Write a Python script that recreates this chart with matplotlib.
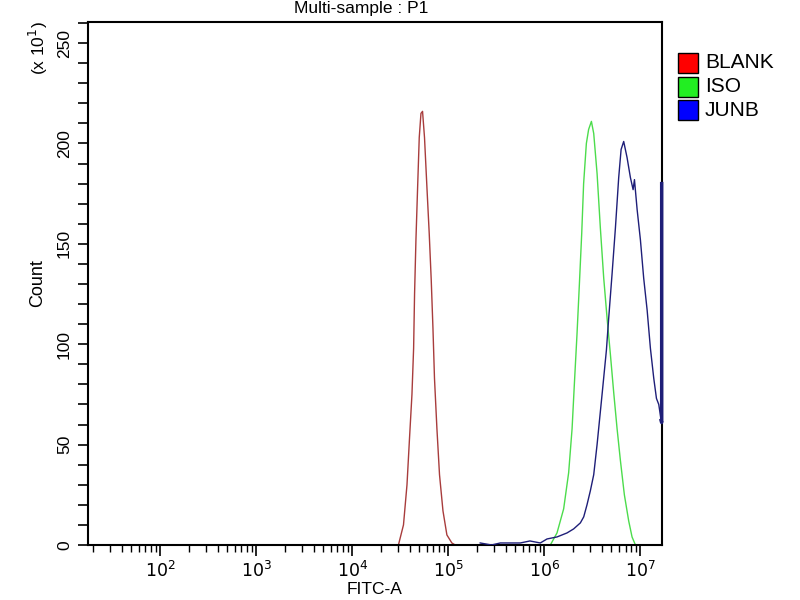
import matplotlib
matplotlib.use('Agg')
import matplotlib.pyplot as plt
from matplotlib.patches import Rectangle
from matplotlib.ticker import LogLocator, MultipleLocator, NullFormatter

plt.rcParams['font.family'] = ['Liberation Sans', 'DejaVu Sans']

# histogram outlines (FITC-A value, count)
blank_x = [30300, 34200, 37200, 39500, 41900, 43600, 44600, 46100, 47900, 49900,
           52000, 54000, 56600, 60000, 63400, 66500, 69300, 71900, 76200, 81100,
           88100, 96800, 109000, 118000]
blank_y = [0, 10, 30, 53, 75, 98, 125, 152, 177, 203,
           215, 216, 203, 178, 155, 132, 108, 83, 58, 35,
           17, 5, 1, 0]

iso_x = [1155000, 1355000, 1589000, 1791000, 1945000, 2053000, 2188000, 2317000,
         2449000, 2564000, 2738000, 2891000, 3090000, 3266000, 3540000, 3828000,
         4150000, 4498000, 4869000, 5272000, 5715000, 6194000, 6808000, 7551000,
         8185000, 8872000]
iso_y = [0, 6, 18, 36, 58, 80, 105, 130,
         155, 180, 200, 207, 211, 205, 185, 158,
         133, 113, 95, 76, 58, 42, 25, 12,
         4, 0]

junb_x = [215000, 282000, 348000, 447000, 562000, 708000, 908000, 1067000,
          1355000, 1722000, 2018000, 2371000, 2570000, 2780000, 3013000, 3266000,
          3540000, 3767000, 3990000, 4426000, 4677000, 5070000, 5495000, 5943000,
          6295000, 6699000, 7261000, 7870000, 8395000, 8670000, 9247000, 10000000,
          10814000, 11749000, 12706000, 13772000, 14689000, 15524000, 16444000,
          16650000, 16650000]
junb_y = [1, 0, 1, 1, 1, 2, 1, 3,
          4, 6, 8, 11, 14, 20, 27, 35,
          50, 63, 75, 97, 113, 135, 158, 183,
          197, 201, 193, 183, 177, 182, 167, 152,
          133, 117, 98, 83, 73, 70, 62,
          61, 180]

labels = ['BLANK', 'ISO', 'JUNB']
line_colors = ['#a83c3c', '#4cdc4c', '#1e1e78']
key_colors = ['#ff0000', '#22ee22', '#0000ff']

fig = plt.figure(figsize=(8, 6), dpi=100)
ax = fig.add_axes([0.11, 0.0917, 0.7175, 0.8716])

ax.plot(blank_x, blank_y, color=line_colors[0], lw=1)
ax.plot(iso_x, iso_y, color=line_colors[1], lw=1)
ax.plot(junb_x[:-2], junb_y[:-2], color=line_colors[2], lw=1, zorder=3)
# pile-up in the last channel, drawn over the right spine
ax.plot(junb_x[-3:], junb_y[-3:], color=line_colors[2], lw=2.5, zorder=3,
        clip_on=False)

ax.set_xscale('log')
ax.set_xlim(17.8, 16777215)
ax.set_ylim(0, 260.5)

ax.xaxis.set_minor_locator(LogLocator(base=10, subs=range(2, 10), numticks=12))
ax.xaxis.set_minor_formatter(NullFormatter())
ax.set_xticks([1e2, 1e3, 1e4, 1e5, 1e6, 1e7])
ax.set_xticklabels([r'$10^{2}$', r'$10^{3}$', r'$10^{4}$', r'$10^{5}$', r'$10^{6}$', r'$10^{7}$'])

ax.yaxis.set_major_locator(MultipleLocator(50))
ax.yaxis.set_minor_locator(MultipleLocator(10))

ax.tick_params(axis='x', which='major', length=8, width=1.2, labelsize=12.5, pad=3)
ax.tick_params(axis='x', which='minor', length=5, width=1)
ax.tick_params(axis='y', which='both', length=7.5, width=1.2, labelsize=12.5, pad=4)
for lab in ax.get_yticklabels():
    lab.set_rotation(90)
    lab.set_va('center')
for sp in ax.spines.values():
    sp.set_linewidth(1.5)

ax.set_xlabel('FITC-A', fontsize=12.5, labelpad=1)
ax.set_ylabel('Count', fontsize=13, labelpad=8)

fig.text(0.451, 0.999, 'Multi-sample : P1', ha='center', va='top', fontsize=12.5)
fig.text(0.048, 0.92, r'(x 10$^{1}$)', rotation=90, ha='center', va='center', fontsize=12.5)

# legend keys: coloured squares with black edges
for i, (lab, col) in enumerate(zip(labels, key_colors)):
    top = 53 + i * 23.5
    fig.add_artist(Rectangle((678 / 800, 1 - (top + 20) / 600), 20 / 800, 20 / 600,
                             transform=fig.transFigure, facecolor=col,
                             edgecolor='black', lw=1))
    fig.text(705 / 800, 1 - (top + 10) / 600, lab, ha='left', va='center',
             fontsize=15)

fig.savefig('out.png', dpi=100)
